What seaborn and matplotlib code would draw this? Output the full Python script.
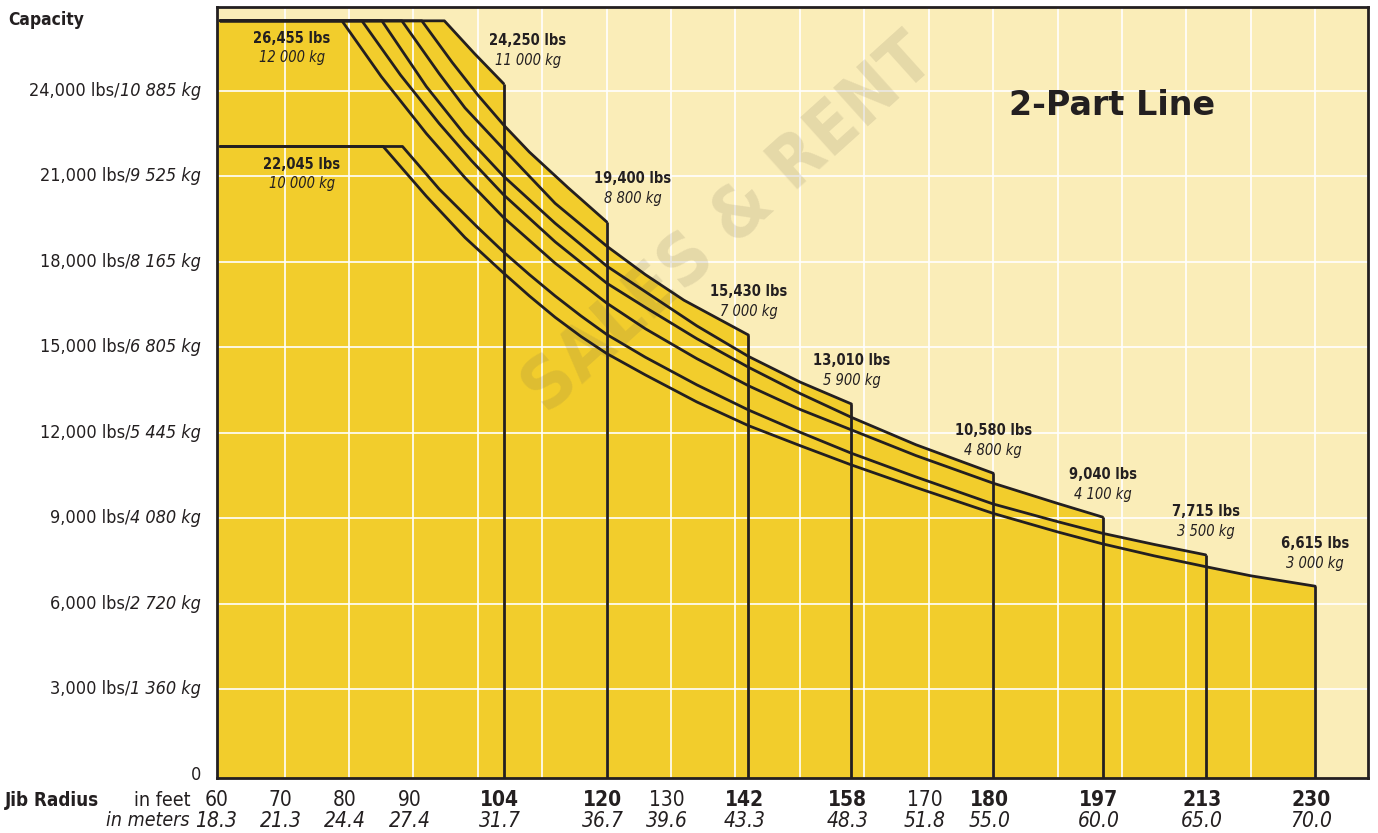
import numpy as np
import pandas as pd
import matplotlib
matplotlib.use("Agg")
import matplotlib.pyplot as plt
import matplotlib.transforms as mtransforms
from matplotlib import font_manager as fm
import seaborn as sns

# ---------------- data ----------------
jib_ft = [104, 120, 142, 158, 180, 197, 213, 230]
end_lbs = [24250, 19400, 15430, 13010, 10580, 9040, 7715, 6615]
end_kg = ["11 000", "8 800", "7 000", "5 900", "4 800", "4 100", "3 500", "3 000"]

max_lbs = [26455, 22045]
max_kg = ["12 000", "10 000"]

c104_x = [60, 94.8, 99.5, 104]
c104_y = [26455, 26455, 25300, 24250]
c120_x = [60, 91.3, 96, 100, 104, 108, 114, 120]
c120_y = [26455, 26455, 25000, 23850, 22800, 21850, 20600, 19400]
c142_x = [60, 88.2, 94, 98, 104, 112, 120, 126, 132, 142]
c142_y = [26455, 26455, 24600, 23400, 21950, 20050, 18550, 17550, 16650, 15430]
c158_x = [60, 85.1, 92, 98, 104, 112, 120, 126, 134, 142, 150, 158]
c158_y = [26455, 26455, 24150, 22450, 21000, 19350, 17850, 16950, 15750, 14680, 13780, 13010]
c180_x = [60, 82, 88, 94, 99, 104, 112, 120, 126, 134, 142, 150, 158, 168, 180]
c180_y = [26455, 26455, 24550, 22850, 21550, 20350, 18700, 17250, 16400, 15300, 14300, 13380, 12540, 11580, 10580]
c197_x = [60, 78.9, 85, 92, 98, 104, 112, 120, 126, 134, 142, 150, 158, 168, 180, 190, 197]
c197_y = [26455, 26455, 24500, 22500, 20950, 19550, 17950, 16550, 15650, 14600, 13650, 12820, 12100, 11200, 10230, 9520, 9040]
c213_x = [60, 88.3, 94, 100, 104, 108, 112, 116, 120, 126, 134, 142, 150, 158, 168, 180, 190, 197, 205, 213]
c213_y = [22045, 22045, 20550, 19200, 18340, 17550, 16800, 16100, 15450, 14650, 13680, 12800, 12020, 11280, 10450, 9500, 8880, 8470, 8080, 7715]
c230_x = [60, 85.3, 92, 98, 104, 108, 112, 116, 120, 126, 134, 142, 150, 158, 168, 180, 190, 197, 205, 213, 220, 230]
c230_y = [22045, 22045, 20300, 18850, 17600, 16800, 16050, 15380, 14780, 14030, 13080, 12250, 11550, 10870, 10080, 9170, 8520, 8100, 7680, 7300, 6980, 6615]

ft_ticks = [60, 70, 80, 90, 104, 120, 130, 142, 158, 170, 180, 197, 213, 230]
m_ticks = ["18.3", "21.3", "24.4", "27.4", "31.7", "36.7", "39.6", "43.3", "48.3",
           "51.8", "55.0", "60.0", "65.0", "70.0"]
lbs_ticks = [3000, 6000, 9000, 12000, 15000, 18000, 21000, 24000]
kg_ticks = ["1 360", "2 720", "4 080", "5 445", "6 805", "8 165", "9 525", "10 885"]

curves_x = [c104_x, c120_x, c142_x, c158_x, c180_x, c197_x, c213_x, c230_x]
curves_y = [c104_y, c120_y, c142_y, c158_y, c180_y, c197_y, c213_y, c230_y]

# ---------------- style ----------------
sns.set_theme(style="white")
names = {f.name for f in fm.fontManager.ttflist}
if "Liberation Sans Narrow" in names:
    FAM, STRETCH = "Liberation Sans Narrow", "normal"
else:
    FAM, STRETCH = "DejaVu Sans", "condensed"
plt.rcParams["font.family"] = [FAM, "DejaVu Sans"]
plt.rcParams["font.stretch"] = STRETCH

INK = "#231F20"
YEL = "#F2CD2C"
CREAM = "#FAEDB8"

W, H = 1378, 833
fig = plt.figure(figsize=(W / 100, H / 100), dpi=100)
fig.patch.set_facecolor("white")
ax = fig.add_axes([217 / W, 1 - 778 / H, (1368 - 217) / W, (778 - 7) / H])
ax.set_facecolor(CREAM)
XMIN, XMAX, YMIN, YMAX = 59.5, 238.2, -116, 26940
ax.set_xlim(XMIN, XMAX)
ax.set_ylim(YMIN, YMAX)

# envelope fill
env_x, env_y = [], []
prev = XMIN
for j, cx, cy in zip(jib_ft, curves_x, curves_y):
    seg = [prev] + [v for v in cx if prev < v < j] + [j]
    env_x += seg
    env_y += list(np.interp(seg, cx, cy))
    prev = j
ax.fill_between(env_x, env_y, YMIN, color=YEL, lw=0, zorder=1)

# grid
ax.set_xticks(range(70, 231, 10))
ax.set_yticks(lbs_ticks)
ax.set_axisbelow(False)
ax.grid(True, color="white", lw=1.2, zorder=2)
ax.tick_params(length=0, labelbottom=False, labelleft=False)

# watermark
ax.text(139, 19300, "SALES & RENT", rotation=42, fontsize=52, weight="bold",
        family="DejaVu Sans", color="#6E6450", alpha=0.15, ha="center", va="center",
        zorder=2.6)

# curves through seaborn
rows = []
for j, cx, cy in zip(jib_ft, curves_x, curves_y):
    for xv, yv in zip(cx, cy):
        rows.append({"jib": str(j), "ft": xv, "lbs": yv})
df = pd.DataFrame(rows)
sns.lineplot(data=df, x="ft", y="lbs", hue="jib", palette=[INK] * len(jib_ft),
             estimator=None, legend=False, lw=2.0, ax=ax, zorder=3)
ax.vlines(jib_ft, YMIN, end_lbs, color=INK, lw=2.0, zorder=3)
ax.set_xlabel("")
ax.set_ylabel("")

for s in ax.spines.values():
    s.set_color(INK)
    s.set_linewidth(2)
    s.set_zorder(4)

# data labels
FS = 10.5
dx = {104: 24, 120: 26}
for j, v, kg in zip(jib_ft, end_lbs, end_kg):
    ax.annotate(f"{v:,} lbs", xy=(j, v), xytext=(dx.get(j, 0), 43), textcoords="offset pixels",
                ha="center", va="center", fontsize=FS, weight="bold", color=INK, zorder=5)
    ax.annotate(f"{kg} kg", xy=(j, v), xytext=(dx.get(j, 0), 23), textcoords="offset pixels",
                ha="center", va="center", fontsize=FS, style="italic", color=INK, zorder=5)
for xv, v, kg in zip([71.1, 72.7], max_lbs, max_kg):
    ax.annotate(f"{v:,} lbs", xy=(xv, v), xytext=(0, -18), textcoords="offset pixels",
                ha="center", va="center", fontsize=FS, weight="bold", color=INK, zorder=5)
    ax.annotate(f"{kg} kg", xy=(xv, v), xytext=(0, -37), textcoords="offset pixels",
                ha="center", va="center", fontsize=FS, style="italic", color=INK, zorder=5)

ax.text(198.5, 23500, "2-Part Line", fontsize=24, weight="heavy", family="DejaVu Sans",
        stretch="normal", color=INK, ha="center", va="center", zorder=5)

# y tick labels
ytr = ax.get_yaxis_transform()
kx = (201 - 217) / (1368 - 217)
for v, kg in zip(lbs_ticks, kg_ticks):
    t = ax.text(kx, v, f"{kg} kg", transform=ytr, ha="right", va="center",
                fontsize=13, style="italic", color=INK)
    ax.annotate(f"{v:,} lbs/", xy=(0, 0.5), xycoords=t, ha="right", va="center",
                fontsize=13, color=INK)
ax.text(kx, 0, "0", transform=ytr, ha="right", va="center", fontsize=13, color=INK)
fig.text(8 / W, 1 - 20 / H, "Capacity", ha="left", va="center", fontsize=12.5,
         weight="bold", color=INK)

# x tick labels
xtr = mtransforms.offset_copy(ax.get_xaxis_transform(), fig=fig, x=-4, y=0, units="dots")
yf = -(800 - 778) / (778 - 7)
ym = -(821 - 778) / (778 - 7)
for f, m in zip(ft_ticks, m_ticks):
    ax.text(f, yf, str(f), transform=xtr, ha="center", va="center", fontsize=15,
            weight="bold" if f in jib_ft else "normal", color=INK, clip_on=False)
    ax.text(f, ym, m, transform=xtr, ha="center", va="center", fontsize=15,
            style="italic", color=INK, clip_on=False)
fig.text(5 / W, 1 - 800 / H, "Jib Radius", ha="left", va="center", fontsize=13.5,
         weight="bold", color=INK)
fig.text(190 / W, 1 - 800 / H, "in feet", ha="right", va="center", fontsize=14, color=INK)
fig.text(190 / W, 1 - 821 / H, "in meters", ha="right", va="center", fontsize=14,
         style="italic", color=INK)

fig.savefig("out.png", dpi=100)
